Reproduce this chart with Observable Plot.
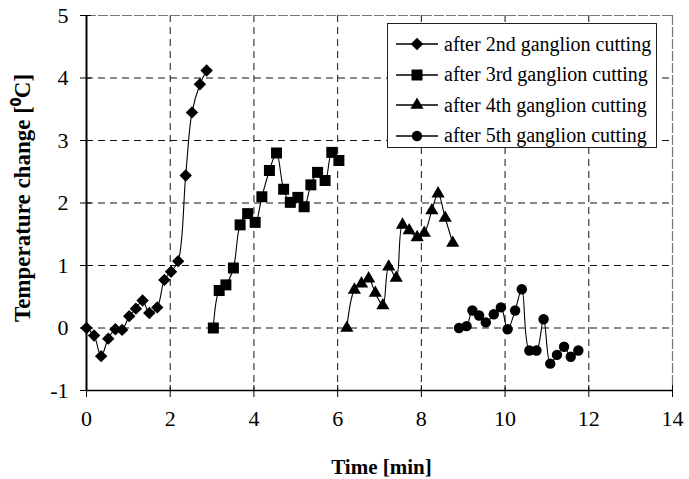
<!DOCTYPE html>
<html>
<head>
<meta charset="utf-8">
<script src="https://cdn.jsdelivr.net/npm/d3@7"></script>
<script src="https://cdn.jsdelivr.net/npm/@observablehq/plot@0.6"></script>
<style>
  html, body { margin: 0; padding: 0; background: #fff; }
  #wrap { position: relative; width: 689px; height: 479px; font-family: "Liberation Serif", "Times New Roman", serif; }
  #wrap svg text { font-family: "Liberation Serif", "Times New Roman", serif !important; }
  #legend { position: absolute; left: 387px; top: 23px; width: 268px; height: 123px; border: 1px solid #222; background: #fff; box-sizing: content-box; }
  .row { position: absolute; left: 0; height: 30px; display: flex; align-items: center; font-size: 20px; color: #000; white-space: nowrap; font-family: "Liberation Serif", "Times New Roman", serif; }
  .row svg { margin-left: 8px; margin-right: 6px; }
</style>
</head>
<body>
<div id="wrap"></div>
<script>
// ---- data ----
const xTicks = [0, 2, 4, 6, 8, 10, 12, 14];
const yTicks = [-1, 0, 1, 2, 3, 4, 5];
const gridX = [2, 4, 6, 8, 10, 12];
const gridY = [0, 1, 2, 3, 4];

const seriesNames = ["after 2nd ganglion cutting", "after 3rd ganglion cutting", "after 4th ganglion cutting", "after 5th ganglion cutting"];

const s2Time = [0, 0.18, 0.35, 0.52, 0.69, 0.85, 1.02, 1.18, 1.34, 1.5, 1.69, 1.86, 2.02, 2.19, 2.37, 2.52, 2.71, 2.87];
const s2Temp = [0, -0.12, -0.45, -0.17, -0.02, -0.03, 0.19, 0.31, 0.44, 0.24, 0.33, 0.77, 0.9, 1.07, 2.44, 3.45, 3.9, 4.12];

const s3Time = [3.03, 3.17, 3.33, 3.51, 3.67, 3.85, 4.03, 4.19, 4.37, 4.54, 4.71, 4.87, 5.05, 5.2, 5.36, 5.52, 5.7, 5.86, 6.03];
const s3Temp = [0, 0.6, 0.69, 0.96, 1.65, 1.83, 1.69, 2.1, 2.52, 2.8, 2.22, 2.01, 2.09, 1.94, 2.29, 2.49, 2.36, 2.81, 2.68];

const s4Time = [6.22, 6.4, 6.57, 6.74, 6.9, 7.08, 7.22, 7.4, 7.55, 7.71, 7.9, 8.07, 8.25, 8.4, 8.57, 8.75];
const s4Temp = [0, 0.61, 0.71, 0.79, 0.56, 0.36, 0.98, 0.8, 1.65, 1.56, 1.45, 1.52, 1.88, 2.15, 1.76, 1.36];

const s5Time = [8.9, 9.08, 9.22, 9.38, 9.54, 9.73, 9.9, 10.06, 10.24, 10.4, 10.58, 10.75, 10.92, 11.08, 11.24, 11.41, 11.57, 11.75];
const s5Temp = [0, 0.03, 0.28, 0.2, 0.09, 0.22, 0.33, -0.02, 0.28, 0.62, -0.36, -0.36, 0.14, -0.57, -0.43, -0.3, -0.46, -0.36];

// ---- build ----
const diamond = d3.symbolDiamond2 || { draw(ctx, size) { const r = Math.sqrt(size) * 0.62625; ctx.moveTo(0, -r); ctx.lineTo(r, 0); ctx.lineTo(0, r); ctx.lineTo(-r, 0); ctx.closePath(); } };
const symbols = [diamond, d3.symbolSquare, d3.symbolTriangle, d3.symbolCircle];
const radii = [5.6, 6.2, 4.9, 5.2];

const times = [s2Time, s3Time, s4Time, s5Time];
const temps = [s2Temp, s3Temp, s4Temp, s5Temp];
const series = times.map((ts, k) => ts.map((t, i) => ({ t, v: temps[k][i], s: seriesNames[k] })));
const all = series.flat();

const serif = '"Liberation Serif", "Times New Roman", serif';
const chart = Plot.plot({
  width: 689,
  height: 479,
  marginLeft: 86,
  marginRight: 17,
  marginTop: 15,
  marginBottom: 89,
  style: { fontFamily: serif, fontSize: "22px", color: "#000", background: "#fff" },
  x: { domain: [0, 14] },
  y: { domain: [-1, 5] },
  marks: [
    Plot.ruleX(gridX, { x: d => d, stroke: "#111", strokeDasharray: "7,5", strokeWidth: 1 }),
    Plot.ruleY(gridY, { y: d => d, stroke: "#111", strokeDasharray: "7,5", strokeWidth: 1 }),
    Plot.ruleY([5], { y: d => d, stroke: "#777", strokeDasharray: "10,2", strokeWidth: 1.2 }),
    Plot.ruleX([14], { x: d => d, stroke: "#777", strokeDasharray: "10,2", strokeWidth: 1.2 }),
    Plot.ruleX([0], { x: d => d, stroke: "#000", strokeWidth: 2 }),
    Plot.ruleY([-1], { y: d => d, stroke: "#000", strokeWidth: 1.5 }),
    // crossing ticks
    Plot.ruleX(xTicks, { x: d => d, y1: () => -1, y2: () => -1, insetTop: -5, insetBottom: -7, stroke: "#000", strokeWidth: 1 }),
    Plot.ruleY(yTicks, { y: d => d, x1: () => 0, x2: () => 0, insetLeft: -6, insetRight: -5, stroke: "#000", strokeWidth: 1 }),
    Plot.axisX({ ticks: xTicks, tickSize: 0, tickPadding: 20, tickFormat: d => String(d), label: null, fontSize: 22, fontFamily: serif }),
    Plot.axisY({ ticks: yTicks, tickSize: 0, tickPadding: 18, tickFormat: d => String(d), label: null, fontSize: 22, fontFamily: serif }),
    Plot.line(all, { x: "t", y: "v", z: "s", curve: "catmull-rom", stroke: "#000", strokeWidth: 1.1 }),
    ...series.map((data, k) => Plot.dot(data, { x: "t", y: "v", symbol: symbols[k], r: radii[k], fill: "#000", stroke: "none" })),
    Plot.text(["Time [min]"], { frameAnchor: "bottom", dx: 2, dy: 77, lineAnchor: "middle", fontWeight: "bold", fontSize: 21, fontFamily: serif }),
    Plot.text(["Temperature change [\u2070C]"], { frameAnchor: "left", dx: -64, dy: -5, rotate: -90, lineAnchor: "middle", textAnchor: "middle", fontWeight: "bold", fontSize: 23, fontFamily: serif })
  ]
});

const wrap = document.getElementById("wrap");
wrap.appendChild(chart);

// legend
const legend = document.createElement("div");
legend.id = "legend";
wrap.appendChild(legend);
seriesNames.forEach((name, k) => {
  const row = document.createElement("div");
  row.className = "row";
  row.style.top = (5 + k * 30.5) + "px";
  const size = radii[k] * radii[k] * Math.PI;
  const path = d3.symbol(symbols[k], size)();
  row.innerHTML = `<svg width="42" height="20" viewBox="-21 -10 42 20"><line x1="-21" x2="21" y1="0" y2="0" stroke="#000" stroke-width="1.3"/><path d="${path}" fill="#000"/></svg><span>${name}</span>`;
  legend.appendChild(row);
});
</script>
</body>
</html>
